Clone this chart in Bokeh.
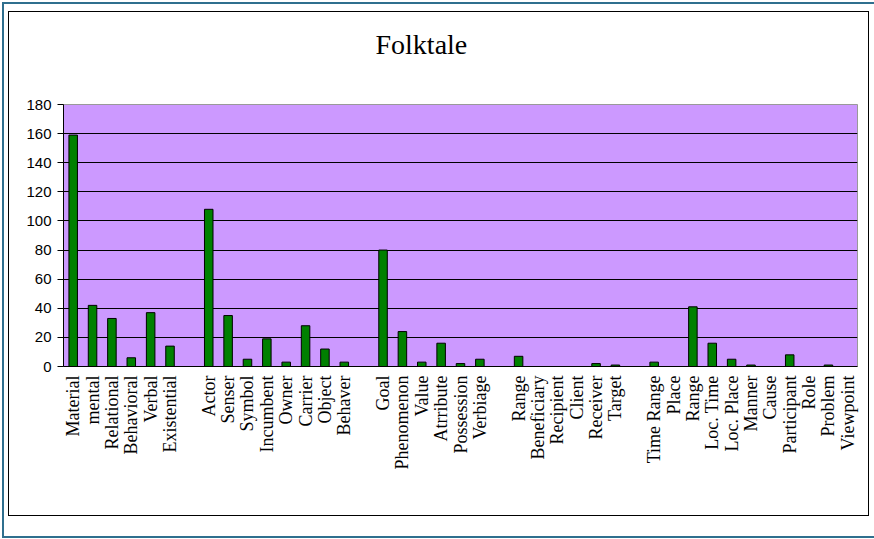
import math
from bokeh.plotting import figure
from bokeh.models import FixedTicker, Range1d, Title, Column
from bokeh.embed import file_html
from bokeh.resources import INLINE

title_text = "Folktale"
categories = ["Material", "mental", "Relational", "Behavioral", "Verbal", "Existential", "",
              "Actor", "Senser", "Symbol", "Incumbent", "Owner", "Carrier", "Object", "Behaver", "",
              "Goal", "Phenomenon", "Value", "Atrribute", "Possession", "Verbiage", "",
              "Range", "Beneficiary", "Recipient", "Client", "Receiver", "Target", "",
              "Time Range", "Place", "Range", "Loc. Time", "Loc. Place", "Manner", "Cause",
              "Participant", "Role", "Problem", "Viewpoint"]
values = [159, 42, 33, 6, 37, 14, None,
          108, 35, 5, 19, 3, 28, 12, 3, None,
          80, 24, 3, 16, 2, 5, None,
          7, 0, 0, 0, 2, 1, None,
          3, 0, 41, 16, 5, 1, 0, 8, 0, 1, 0]
y_ticks = [0, 20, 40, 60, 80, 100, 120, 140, 160, 180]

bar_x = [i for i, v in enumerate(values) if v]
bar_top = [v for v in values if v]

p = figure(width=859, height=503,
           x_range=Range1d(-0.5, len(categories) - 0.5),
           y_range=Range1d(y_ticks[0], y_ticks[-1]),
           output_backend="svg", toolbar_location=None,
           min_border_left=54, min_border_right=11,
           min_border_top=92, min_border_bottom=149)

p.background_fill_color = "#CC99FF"
p.border_fill_color = "white"
p.outline_line_color = "#999999"
p.outline_line_width = 1

p.vbar(x=bar_x, top=bar_top, width=0.44, fill_color="#008000",
       line_color="black", line_width=1)

p.xgrid.visible = False
p.ygrid.ticker = FixedTicker(ticks=y_ticks[1:-1])
p.ygrid.grid_line_color = "black"
p.ygrid.grid_line_width = 1

p.yaxis.ticker = FixedTicker(ticks=y_ticks)
p.yaxis.major_tick_out = 6
p.yaxis.major_tick_in = 0
p.yaxis.minor_tick_out = 0
p.yaxis.minor_tick_in = 0
p.yaxis.major_label_standoff = 6
p.yaxis.major_label_text_font = "Liberation Sans"
p.yaxis.major_label_text_font_size = "15px"
p.yaxis.major_label_text_color = "black"
p.yaxis.axis_line_color = "black"
p.yaxis.major_tick_line_color = "black"

p.xaxis.ticker = FixedTicker(ticks=[i for i, c in enumerate(categories) if c])
p.xaxis.major_label_overrides = {i: c for i, c in enumerate(categories) if c}
p.xaxis.major_label_orientation = math.pi / 2
p.xaxis.major_tick_out = 0
p.xaxis.major_tick_in = 0
p.xaxis.minor_tick_out = 0
p.xaxis.minor_tick_in = 0
p.xaxis.major_label_standoff = 9
p.xaxis.major_label_text_font = "Liberation Serif"
p.xaxis.major_label_text_font_size = "18px"
p.xaxis.major_label_text_color = "black"
p.xaxis.axis_line_color = "black"

# spacer between the frame and the title, then the title itself
p.add_layout(Title(text=" ", text_font_size="1px", standoff=42), "above")
p.add_layout(Title(text=title_text, text_font="Liberation Serif", text_font_size="28px",
                   text_font_style="normal", text_color="black",
                   align="left", offset=312, standoff=0), "above")

inner = Column(children=[p], styles={"border": "1px solid black"})
outer = Column(children=[inner], styles={
    "margin": "2px 0px 0px 2px",
    "border-left": "2px solid #2f6f8e",
    "border-top": "2px solid #2f6f8e",
    "border-bottom": "2px solid #2f6f8e",
    "padding": "7px 5px 20px 4px",
})

open("out.html", "w").write(file_html(outer, INLINE))
